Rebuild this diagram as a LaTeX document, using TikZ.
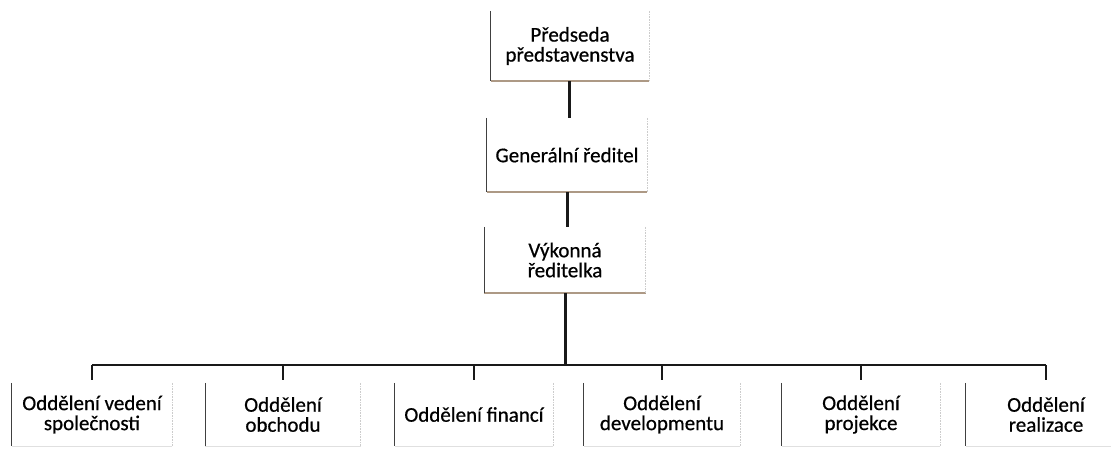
\documentclass[tikz,border=0pt]{standalone}
\usepackage{fontspec}
\setmainfont{Carlito}[FakeBold=0.6,AutoFakeBold=0.6]
\tikzset{
  orgbox/.style={fill=white, align=center, inner sep=0pt, font=\fontsize{21}{20}\selectfont\bfseries},
  leftedge/.style={draw=black!75, line width=0.9pt},
  bottomedge/.style={draw=brown!40!gray!80, line width=1.6pt},
  rightedge/.style={draw=black!20, line width=0.6pt, densely dotted},
  link/.style={draw=black!90, line width=3pt},
}
\begin{document}
\begin{tikzpicture}[x=1pt,y=-1pt]
			\useasboundingbox (0,0) rectangle (1111,448);
			\clip (0,0) rectangle (1111,448);
			% top chain
			\node[orgbox, minimum width=158pt, minimum height=70pt] (pp) at (570,46) {Předseda\\ představenstva};
			\node[orgbox, minimum width=160pt, minimum height=74pt] (gr) at (567,155) {Generální ředitel};
			\node[orgbox, minimum width=161pt, minimum height=66pt] (vr) at (565,260) {Výkonná\\ ředitelka};
			% departments
			\node[orgbox, minimum width=160pt, minimum height=63pt] (b1) at (92,414.5) {Oddělení vedení\\ společnosti};
			\node[orgbox, minimum width=155pt, minimum height=63pt] (b2) at (283,414.5) {Oddělení\\ obchodu};
			\node[orgbox, minimum width=158pt, minimum height=63pt] (b3) at (474,414.5) {Oddělení financí};
			\node[orgbox, minimum width=156pt, minimum height=63pt] (b4) at (662,414.5) {Oddělení\\ developmentu};
			\node[orgbox, minimum width=158pt, minimum height=63pt] (b5) at (861,414.5) {Oddělení\\ projekce};
			\node[orgbox, minimum width=160pt, minimum height=63pt] (b6) at (1046,414.5) {Oddělení\\ realizace};
			% box edges
			\foreach \n in {pp,gr,vr} {
				\draw[bottomedge] (\n.south west) -- (\n.south east);
				\draw[rightedge] (\n.north east) -- (\n.south east);
				\draw[leftedge] (\n.north west) -- (\n.south west);
			}
			\foreach \n in {b1,b2,b3,b4,b5,b6} {
				\draw[draw=black!12, line width=1pt] (\n.south west) -- (\n.south east);
				\draw[rightedge] (\n.north east) -- (\n.south east);
				\draw[leftedge] (\n.north west) -- (\n.south west);
			}
			% connectors
			\coordinate (bus) at (565,365);
			\draw[link] ([xshift=-1pt]pp.south) -- ([xshift=-1pt]pp.south |- gr.north);
			\draw[link] (gr.south) -- (gr.south |- vr.north);
			\draw[link] (vr.south) -- (bus);
			\draw[link, line width=2.5pt] (b1.north |- bus) -- (b6.north |- bus);
			\foreach \n in {b1,b2,b3,b4,b5,b6}
				\draw[link, line width=2.5pt, shorten >=3pt] (\n.north |- bus) -- (\n.north);
		\end{tikzpicture}
\end{document}
